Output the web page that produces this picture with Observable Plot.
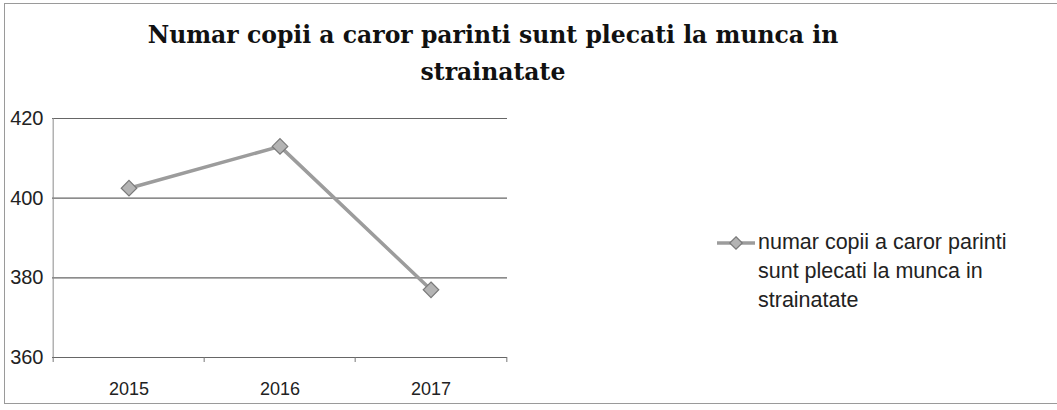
<!DOCTYPE html>
<html>
<head>
<meta charset="utf-8">
<script src="https://cdn.jsdelivr.net/npm/d3@7"></script>
<script src="https://cdn.jsdelivr.net/npm/@observablehq/plot@0.6"></script>
<style>
  html, body { margin: 0; padding: 0; background: #fff; }
  #wrap { position: relative; width: 1057px; height: 410px; overflow: hidden; background: #fff; }
  #frame { position: absolute; left: 4px; top: 3px; width: 1070px; height: 401px; border: 1px solid #9a9a9a; box-sizing: border-box; pointer-events: none; }
  #title { position: absolute; left: 0; width: 986px; top: 17px; text-align: center; font-family: "DejaVu Serif", serif; font-weight: bold; font-size: 23.5px; line-height: 37px; color: #111; }
  #legend { position: absolute; left: 716px; top: 228px; font-family: "Liberation Sans", Arial, sans-serif; font-size: 21.5px; line-height: 29px; color: #222; }
  #legend .row { display: flex; align-items: flex-start; }
  #legend svg { flex: none; margin-top: 7px; margin-right: 2px; }
  #chart { position: absolute; left: 0; top: 0; }
</style>
</head>
<body>
<div id="wrap">
  <div id="chart"></div>
  <div id="title">Numar copii a caror parinti sunt plecati la munca in<br>strainatate</div>
  <div id="legend"></div>
  <div id="frame"></div>
</div>
<script>
const years = ["2015", "2016", "2017"];
const values = [402.5, 413, 377];
const yTicks = [360, 380, 400, 420];
const seriesName = "numar copii a caror parinti sunt plecati la munca in strainatate";
const legendLines = ["numar copii a caror parinti", "sunt plecati la munca in", "strainatate"];

const data = years.map((y, i) => ({year: y, value: values[i]}));

const W = 1057, H = 410;
const mL = 52, mR = 550, mT = 118, mB = 53;
const bw = (W - mL - mR) / years.length;

const lineColor = "#9c9c9c";
const markerFill = "#b4b4b4";
const markerStroke = "#7a7a7a";

const plot = Plot.plot({
  width: W,
  height: H,
  marginLeft: mL,
  marginRight: mR,
  marginTop: mT,
  marginBottom: mB,
  style: {background: "transparent", fontFamily: "Liberation Sans, Arial, sans-serif", color: "#222"},
  x: {type: "band", domain: years, padding: 0, label: null},
  y: {type: "linear", domain: [360, 420], label: null},
  marks: [
    Plot.ruleY(yTicks, {stroke: "#666", strokeWidth: 1.2}),
    Plot.ruleX([years[0]], {dx: -bw / 2, stroke: "#8a8a8a", y1: 420, y2: 360}),
    Plot.ruleX(years, {x: d => d, dx: -bw / 2, y1: 360, y2: 360, insetBottom: -5, stroke: "#777"}),
    Plot.ruleX([years[years.length - 1]], {x: d => d, dx: bw / 2, y1: 360, y2: 360, insetBottom: -5, stroke: "#777"}),
    Plot.axisY({ticks: yTicks, tickSize: 0, tickPadding: 9, fontSize: 20, tickFormat: d => String(d), fill: "#222"}),
    Plot.axisX({tickSize: 0, tickPadding: 25, fontSize: 18, fill: "#222"}),
    Plot.line(data, {x: "year", y: "value", stroke: lineColor, strokeWidth: 3.5}),
    Plot.dot(data, {x: "year", y: "value", symbol: "diamond2", r: 7, fill: markerFill, stroke: markerStroke, strokeWidth: 1.2})
  ]
});
document.getElementById("chart").appendChild(plot);

// legend
const leg = document.getElementById("legend");
const row = document.createElement("div");
row.className = "row";
row.setAttribute("title", seriesName);
const sw = d3.create("svg").attr("width", 40).attr("height", 16);
sw.append("line").attr("x1", 1).attr("x2", 39).attr("y1", 8).attr("y2", 8).attr("stroke", lineColor).attr("stroke-width", 3.5);
sw.append("path").attr("d", d3.symbol(d3.symbolDiamond2, 100)()).attr("transform", "translate(20,8)").attr("fill", markerFill).attr("stroke", markerStroke).attr("stroke-width", 1.2);
row.appendChild(sw.node());
const txt = document.createElement("div");
txt.innerHTML = legendLines.join("<br>");
row.appendChild(txt);
leg.appendChild(row);
</script>
</body>
</html>
